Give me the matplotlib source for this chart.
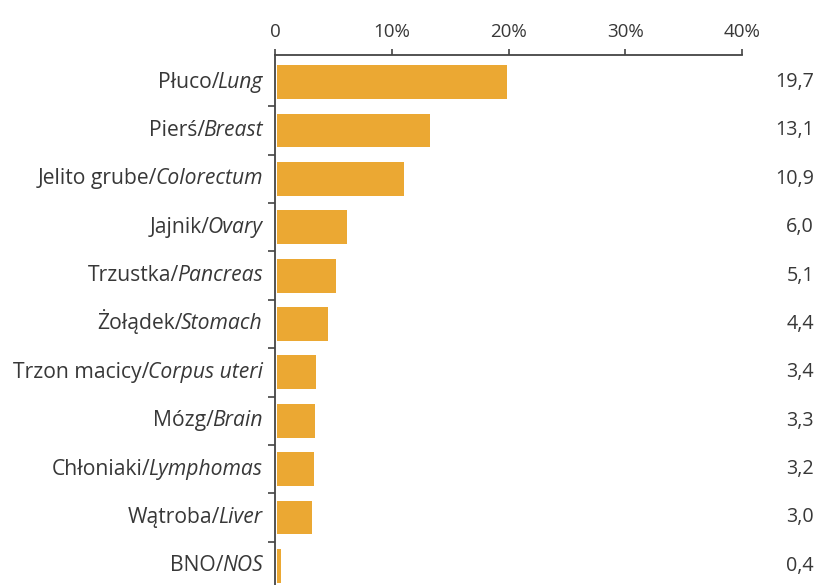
import matplotlib
matplotlib.use("Agg")
import matplotlib.pyplot as plt
import matplotlib.transforms as mtransforms
from matplotlib.ticker import FixedLocator

plt.rcParams['font.family'] = ['Open Sans', 'DejaVu Sans']

labels_pl = ["Płuco", "Pierś", "Jelito grube", "Jajnik", "Trzustka", "Żołądek",
             "Trzon macicy", "Mózg", "Chłoniaki", "Wątroba", "BNO"]
labels_en = ["Lung", "Breast", "Colorectum", "Ovary", "Pancreas", "Stomach",
             "Corpus uteri", "Brain", "Lymphomas", "Liver", "NOS"]
values = [19.7, 13.1, 10.9, 6.0, 5.1, 4.4, 3.4, 3.3, 3.2, 3.0, 0.4]
xticks = [0, 10, 20, 30, 40]
xtick_labels = ["0", "10%", "20%", "30%", "40%"]

W, H = 821, 585
fig = plt.figure(figsize=(W / 100, H / 100), dpi=100)
left, right, top, bottom = 275, 742, 55, 590
ax = fig.add_axes([left / W, (H - bottom) / H, (right - left) / W, (bottom - top) / H])

bar_color = "#EBA833"
text_color = "#383838"
n = len(values)
ypos = list(range(n))
ax.barh(ypos, values, height=0.7, color=bar_color, left=0.15)

ax.set_xlim(0, 40)
ax.set_ylim(n - 0.5, -0.56)

for s in ["right", "bottom"]:
    ax.spines[s].set_visible(False)
for s in ["top", "left"]:
    ax.spines[s].set_color("#444444")
    ax.spines[s].set_linewidth(1.3)

ax.xaxis.tick_top()
ax.set_xticks(xticks)
ax.set_xticklabels(xtick_labels)
ax.tick_params(axis="x", direction="out", length=4, width=1.2, color="#444444",
               pad=6, labelsize=13.5, labelcolor=text_color)

ax.set_yticks([])
ax.yaxis.set_minor_locator(FixedLocator([i + 0.5 for i in range(n)]))
ax.tick_params(axis="y", which="minor", direction="out", length=5, width=1.2,
               color="#444444")

fs = 15.2
fs_val = 14.2
val_trans = mtransforms.blended_transform_factory(fig.transFigure, ax.transData)
for i, (pl, en, v) in enumerate(zip(labels_pl, labels_en, values)):
    it = ax.annotate(en, xy=(0, i), xycoords=("axes fraction", "data"),
                     xytext=(-9, 0), textcoords="offset points",
                     ha="right", va="center", fontsize=fs, style="italic",
                     color=text_color)
    ax.annotate(pl + "/", xy=(0, 0), xycoords=it, xytext=(1.5, 0),
                textcoords="offset points", ha="right", va="bottom",
                fontsize=fs, color=text_color)
    ax.text(814 / W, i, f"{v:.1f}".replace(".", ","), transform=val_trans,
            ha="right", va="center", fontsize=fs_val, color=text_color)

fig.savefig("out.png", dpi=100)
